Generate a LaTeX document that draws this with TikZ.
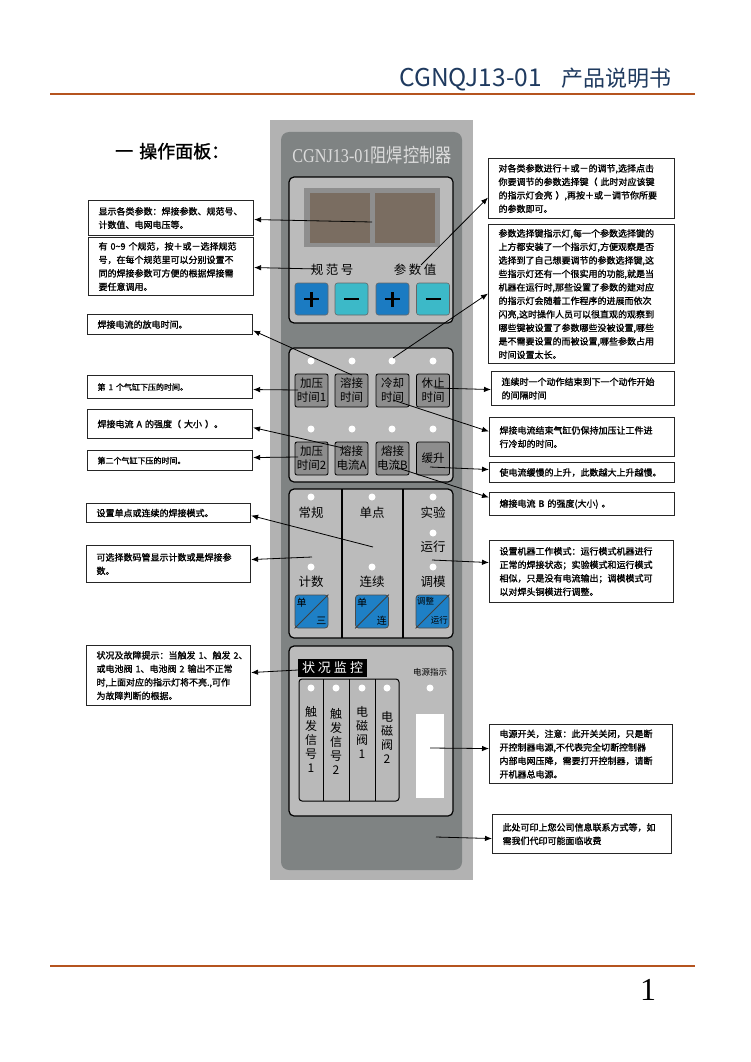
\documentclass[tikz,border=0pt]{standalone}
\usepackage{fontspec}
\setmainfont{Noto Sans CJK SC}
\newfontfamily\cjkbold[FakeBold=1.3]{Noto Sans CJK SC}
\newfontfamily\serifen{Liberation Serif}
\usetikzlibrary{arrows.meta,calc}
\definecolor{rulecol}{HTML}{B5541F}
\definecolor{navy}{HTML}{1F3A5F}
\definecolor{outergray}{HTML}{B2B2B2}
\definecolor{bodygray}{HTML}{7F8383}
\definecolor{sectgray}{HTML}{BBBBBB}
\definecolor{wingray}{HTML}{8E8E8E}
\definecolor{screencol}{HTML}{7A6D61}
\definecolor{keygray}{HTML}{8D8D8D}
\definecolor{plusblue}{HTML}{1B7BC2}
\definecolor{minuscyan}{HTML}{3CB9C8}
\definecolor{modeblue}{HTML}{1E80C6}
\definecolor{stripgray}{HTML}{B9B9B9}
\definecolor{titlegray}{HTML}{DCDCDC}
\newcommand\infobox[6]{%
  \pgfmathsetmacro\bw{#4-#2}%
  \pgfmathsetmacro\bh{#5-#3}%
  \pgfmathsetmacro\tw{#4-#2-20}%
  \node[infobox, minimum width=\bw pt, minimum height=\bh pt, text width=\tw pt] (#1) at (#2,#3) {#6};}
\begin{document}
\begin{tikzpicture}[x=1pt,y=-1pt,
  infobox/.style={draw=black!85, line width=1.1pt, fill=white, inner sep=0pt, anchor=north west, align=left, font=\cjkbold\fontsize{9}{13.5}\selectfont},
  arr/.style={-{Latex[length=7pt,width=5.5pt]}, line width=0.8pt, draw=black},
  sect/.style={draw=black, line width=1.2pt, fill=sectgray, rounded corners=5pt},
  keybox/.style={draw=black, line width=0.8pt, fill=keygray, rounded corners=2pt, minimum width=33pt, minimum height=33pt, inner sep=0pt, align=center, font=\fontsize{11.5}{14}\selectfont},
  pmbtn/.style={draw=black!60, line width=0.6pt, rounded corners=2.5pt, minimum width=33pt, minimum height=32pt, inner sep=0pt},
  modebtn/.style={draw=black!70, line width=0.8pt, fill=modeblue, rounded corners=3pt, minimum width=33pt, minimum height=33pt, inner sep=0pt},
  led/.style={circle, fill=white, inner sep=0pt, minimum size=7pt},
  lbl/.style={font=\fontsize{12.5}{14}\selectfont, inner sep=0pt},
  vtxt/.style={font=\fontsize{12}{14}\selectfont, inner sep=0pt, align=center, anchor=north},
  ]
\useasboundingbox (0,0) rectangle (750,1062);
\fill[white] (0,0) rectangle (750,1062);
% header / footer
\node[anchor=base east, inner sep=0pt, text=navy, font=\fontsize{22}{24}\selectfont] (header) at (672,87) {{\fontsize{24.5}{26}\selectfont CGNQJ13-01}\hspace{20pt}产品说明书};
\draw[rulecol, line width=2.5pt] (50,94) -- (695,94);
\draw[rulecol, line width=2.5pt] (50,966) -- (695,966);
\node[anchor=base, inner sep=0pt, font=\serifen\fontsize{32}{34}\selectfont] (pagenum) at (648,1000) {1};
\node[anchor=base west, inner sep=0pt, font=\cjkbold\fontsize{18}{20}\selectfont] (heading) at (115,158) {一\hspace{6pt}操作面板：};
% panel body
\fill[outergray] (270,120) rectangle (473,880);
\fill[bodygray, rounded corners=8pt] (281,132) rectangle (462,870);
\node[inner sep=0pt, text=titlegray, font=\fontsize{18}{20}\selectfont] (title) at (372,155) {\scalebox{0.9}[1.08]{{\serifen CGNJ13-01}阻焊控制器}};
% section 1: display
\draw[sect] (289,177) rectangle (453,323);
\fill[wingray] (304,188) rectangle (440,247);
\node[fill=screencol, minimum width=60pt, minimum height=50pt, inner sep=0pt] (scr1) at (340,217.5) {};
\node[fill=screencol, minimum width=60pt, minimum height=50pt, inner sep=0pt] (scr2) at (404.5,217.5) {};
\node[lbl] (lblspec) at (332,270) {规\hspace{2.5pt}范\hspace{2.5pt}号};
\node[lbl] (lblval) at (415,270) {参\hspace{2.5pt}数\hspace{2.5pt}值};
\node[pmbtn, fill=plusblue] (bp1) at (311.5,299) {};
\node[pmbtn, fill=minuscyan] (bm1) at (351.5,299) {};
\node[pmbtn, fill=plusblue] (bp2) at (392.5,299) {};
\node[pmbtn, fill=minuscyan] (bm2) at (433,299) {};
\foreach \b in {bp1,bp2}{
  \draw[line width=2.2pt] ([xshift=-7.5pt]\b.center) -- ([xshift=7.5pt]\b.center);
  \draw[line width=2.2pt] ([yshift=-7.5pt]\b.center) -- ([yshift=7.5pt]\b.center);}
\foreach \b in {bm1,bm2}{
  \draw[line width=2.4pt] ([xshift=-7.5pt]\b.center) -- ([xshift=7.5pt]\b.center);}
% section 2: parameter keys
\draw[sect] (289,348) rectangle (453,482);
\node[led] (la1) at (311,361) {};
\node[led] (la2) at (352,361) {};
\node[led] (la3) at (392,361) {};
\node[led] (la4) at (433,361) {};
\node[led] (lb1) at (311,429) {};
\node[led] (lb2) at (352,429) {};
\node[led] (lb3) at (392,429) {};
\node[led] (lb4) at (433,429) {};
\node[keybox] (k1) at (311.5,390.5) {加压\\时间1};
\node[keybox] (k2) at (351.5,390.5) {溶接\\时间};
\node[keybox] (k3) at (392.5,390.5) {冷却\\时间};
\node[keybox] (k4) at (433,390.5) {休止\\时间};
\node[keybox] (k5) at (311.5,458.5) {加压\\时间2};
\node[keybox] (k6) at (351.5,458.5) {熔接\\电流A};
\node[keybox] (k7) at (392.5,458.5) {熔接\\电流B};
\node[keybox] (k8) at (433,458.5) {缓升};
% section 3: modes
\draw[sect] (289,489) rectangle (453,638);
\draw[line width=1.2pt] (342,489) -- (342,638);
\draw[line width=1.2pt] (403,489) -- (403,638);
\node[led] (lm1) at (311,497) {};
\node[led] (lm2) at (311,567) {};
\node[led] (lm3) at (372,497) {};
\node[led] (lm4) at (372,567) {};
\node[led] (lm5) at (433,497) {};
\node[led] (lm6) at (433,533) {};
\node[led] (lm7) at (433,567) {};
\node[lbl] (tm1) at (311,513) {常规};
\node[lbl] (tm2) at (311,582) {计数};
\node[lbl] (tm3) at (372,513) {单点};
\node[lbl] (tm4) at (372,582) {连续};
\node[lbl] (tm5) at (433,513) {实验};
\node[lbl] (tm6) at (433,547) {运行};
\node[lbl] (tm7) at (433,582) {调模};
\node[modebtn] (mb1) at (311.5,611.5) {};
\node[modebtn] (mb2) at (372,611.5) {};
\node[modebtn] (mb3) at (432.5,611.5) {};
\foreach \b in {mb1,mb2,mb3}{\draw[line width=0.8pt, black!75] (\b.south west) -- (\b.north east);}
\node[inner sep=0pt, font=\fontsize{10}{11}\selectfont] (mb1a) at ([xshift=7pt,yshift=-8pt]mb1.north west) {单};
\node[inner sep=0pt, font=\fontsize{10}{11}\selectfont] (mb1b) at ([xshift=-7pt,yshift=8pt]mb1.south east) {三};
\node[inner sep=0pt, font=\fontsize{10}{11}\selectfont] (mb2a) at ([xshift=7pt,yshift=-8pt]mb2.north west) {单};
\node[inner sep=0pt, font=\fontsize{10}{11}\selectfont] (mb2b) at ([xshift=-7pt,yshift=8pt]mb2.south east) {连};
\node[inner sep=0pt, font=\fontsize{8.5}{9}\selectfont] (mb3a) at ([xshift=10pt,yshift=-7pt]mb3.north west) {调整};
\node[inner sep=0pt, font=\fontsize{8.5}{9}\selectfont] (mb3b) at ([xshift=-10pt,yshift=8pt]mb3.south east) {运行};
% section 4: status
\draw[sect] (289,646) rectangle (453,816);
\node[fill=black, text=white, minimum width=69pt, minimum height=18pt, inner sep=0pt, font=\fontsize{13}{14}\selectfont] (status) at (332.5,668) {状\hspace{3pt}况\hspace{3pt}监\hspace{3pt}控};
\draw[line width=1pt, fill=stripgray, rounded corners=3pt] (299,679) rectangle (399,801);
\draw[line width=1pt] (323,679) -- (323,801);
\draw[line width=1pt] (349,679) -- (349,801);
\draw[line width=1pt] (375,679) -- (375,801);
\node[led] (ls1) at (311,688) {};
\node[led] (ls2) at (336,688) {};
\node[led] (ls3) at (362,688) {};
\node[led] (ls4) at (387,688) {};
\node[vtxt] (vs1) at (311,706) {触\\发\\信\\号\\1};
\node[vtxt] (vs2) at (336,708) {触\\发\\信\\号\\2};
\node[vtxt] (vs3) at (362,706) {电\\磁\\阀\\1};
\node[vtxt] (vs4) at (387,711) {电\\磁\\阀\\2};
\node[inner sep=0pt, font=\fontsize{8.5}{9}\selectfont] (pwrlbl) at (430,672) {电源指示};
\node[led] (lpwr) at (430,688) {};
\node[fill=white, minimum width=28pt, minimum height=84pt, inner sep=0pt] (switch) at (430,756) {};
% connector start points
\coordinate (c1) at (372,222);
\coordinate (c2) at (318,269);
\coordinate (c3) at (352,375);
\coordinate (c4) at (298,390);
\coordinate (c5) at (343,448);
\coordinate (c6) at (298,457);
\coordinate (c7) at (373,547);
\coordinate (c8) at (312,557);
\coordinate (c9) at (298,670);
\coordinate (d1) at (421,265);
\coordinate (d2) at (393,358);
\coordinate (d3) at (435,388);
\coordinate (d4) at (393,400);
\coordinate (d5) at (430,467);
\coordinate (d6) at (395,467);
\coordinate (d7) at (432,560);
\coordinate (d8) at (430,748);
\coordinate (d9) at (436,837);
% left boxes
\infobox{L1}{88}{200}{253}{235}{显示各类参数：焊接参数、规范号、\\计数值、电网电压等。}
\infobox{L2}{88}{237}{253}{295}{有~0\textasciitilde 9~个规范，按＋或－选择规范\\号，在每个规范里可以分别设置不\\同的焊接参数可方便的根据焊接需\\要任意调用。}
\infobox{L3}{87}{314}{252}{334}{焊接电流的放电时间。}
\infobox{L4}{87}{375}{252}{398}{{\fontsize{8}{10}\selectfont 第~1~个气缸下压的时间。}}
\infobox{L5}{87}{409}{252}{438}{焊接电流~A~的强度（~大小~）。}
\infobox{L6}{87}{450}{252}{470}{{\fontsize{8}{10}\selectfont 第二个气缸下压的时间。}}
\infobox{L7}{86}{503}{250}{522}{设置单点或连续的焊接模式。}
\infobox{L8}{86}{545}{250}{582}{可选择数码管显示计数或是焊接参\\数。}
\infobox{L9}{86}{645}{250}{705}{状况及故障提示：当触发~1、触发~2、\\或电池阀~1、电池阀~2~输出不正常\\时,上面对应的指示灯将不亮.,可作\\为故障判断的根据。}
% right boxes
\infobox{R1}{488}{158}{674}{218}{对各类参数进行＋或－的调节,选择点击\\你要调节的参数选择键（~此时对应该键\\的指示灯会亮~）,再按＋或－调节你所要\\的参数即可。}
\infobox{R2}{488}{224}{674}{363}{参数选择键指示灯,每一个参数选择键的\\上方都安装了一个指示灯,方便观察是否\\选择到了自己想要调节的参数选择键,这\\些指示灯还有一个很实用的功能,就是当\\机器在运行时,那些设置了参数的建对应\\的指示灯会随着工作程序的进展而依次\\闪亮,这时操作人员可以很直观的观察到\\哪些键被设置了参数哪些没被设置,哪些\\是不需要设置的而被设置,哪些参数占用\\时间设置太长。}
\infobox{R3}{491}{371}{674}{405}{连续时一个动作结束到下一个动作开始\\的间隔时间}
\infobox{R4}{489}{417}{674}{456}{焊接电流结束气缸仍保持加压让工件进\\行冷却的时间。}
\infobox{R5}{489}{462}{674}{482}{使电流缓慢的上升，此数越大上升越慢。}
\infobox{R6}{489}{492}{674}{515}{熔接电流~B~的强度(大小)~。}
\infobox{R7}{489}{540}{673}{602}{设置机器工作模式：运行模式机器进行\\正常的焊接状态；实验模式和运行模式\\相似，只是没有电流输出；调模模式可\\以对焊头铜模进行调整。}
\infobox{R8}{489}{724}{672}{783}{电源开关，注意：此开关关闭，只是断\\开控制器电源,不代表完全切断控制器\\内部电网压降，需要打开控制器，请断\\开机器总电源。}
\infobox{R9}{492}{814}{671}{853}{此处可印上您公司信息联系方式等，如\\需我们代印可能面临收费}
% connectors
\draw[arr] (c1) -- ([yshift=-1.5pt]L1.east);
\draw[arr] (c2) -- ([yshift=-1pt]L2.east);
\draw[arr] (c3) -- ([yshift=-6pt]L3.east);
\draw[arr] (c4) -- ([yshift=-2.5pt]L4.east);
\draw[arr] (c5) -- ([yshift=-3.5pt]L5.east);
\draw[arr] (c6) -- ([yshift=3pt]L6.east);
\draw[arr] (c7) -- ([yshift=-2.5pt]L7.east);
\draw[arr] (c8) -- ([yshift=4.5pt]L8.east);
\draw[arr] (c9) -- ([yshift=3pt]L9.east);
\draw[arr] (d1) -- ([yshift=-9pt]R1.west);
\draw[arr] (d2) -- ([yshift=0.5pt]R2.west);
\draw[arr] (d3) -- ([yshift=-1pt]R3.west);
\draw[arr] (d4) -- ([yshift=5.5pt]R4.west);
\draw[arr] (d5) -- ([yshift=3pt]R5.west);
\draw[arr] (d6) -- ([yshift=6.5pt]R6.west);
\draw[arr] (d7) -- ([yshift=9pt]R7.west);
\draw[arr] (d8) -- ([yshift=5.5pt]R8.west);
\draw[arr] (d9) -- ([yshift=-4.5pt]R9.west);
\end{tikzpicture}
\end{document}
